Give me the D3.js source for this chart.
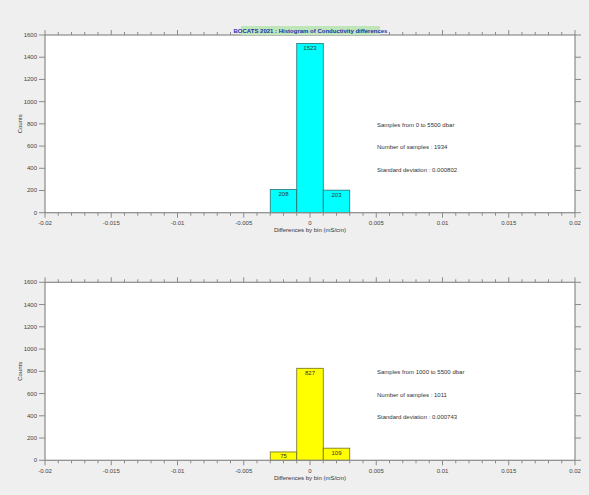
<!DOCTYPE html>
<html><head><meta charset="utf-8">
<script src="https://cdn.jsdelivr.net/npm/d3@7"></script>
<style>
html,body{margin:0;padding:0;background:#efefef;}
svg{display:block;font-family:"Liberation Sans",Arial,sans-serif;}
</style></head>
<body><svg id="c" width="589" height="495"></svg>
<script>
const titleText = "BOCATS 2021 : Histogram of Conductivity differences";
const binStarts = [-0.003, -0.001, 0.001];
const binWidth = 0.002;
const countsTop = [208, 1523, 203];
const countsBottom = [75, 827, 109];
const xTicks = [-0.02, -0.015, -0.01, -0.005, 0, 0.005, 0.01, 0.015, 0.02];
const xTickLabels = ["-0.02", "-0.015", "-0.01", "-0.005", "0", "0.005", "0.01", "0.015", "0.02"];
const yTicks = [0, 200, 400, 600, 800, 1000, 1200, 1400, 1600];
const infoTop = ["Samples from 0 to 5500 dbar", "Number of samples : 1934", "Standard deviation : 0.000802"];
const infoBottom = ["Samples from 1000 to 5500 dbar", "Number of samples : 1011", "Standard deviation : 0.000743"];

const svg = d3.select("#c");
const L = 45, R = 575;
const x = d3.scaleLinear().domain([-0.02, 0.02]).range([L, R]);
const minorTicks = d3.range(-20, 21).map(i => i / 1000);

function panel(top, bottom, counts, fill, stroke, info) {
  const y = d3.scaleLinear().domain([0, 1600]).range([bottom, top]);
  const g = svg.append("g");
  g.append("rect").attr("x", L).attr("y", top).attr("width", R - L).attr("height", bottom - top).attr("fill", "#fff");
  // bars
  g.selectAll(".bar").data(counts).join("rect")
    .attr("x", (d, i) => x(binStarts[i]))
    .attr("width", (d, i) => x(binStarts[i] + binWidth) - x(binStarts[i]))
    .attr("y", d => y(d)).attr("height", d => bottom - y(d))
    .attr("fill", fill).attr("stroke", stroke).attr("stroke-width", 0.8);
  g.selectAll(".bl").data(counts).join("text")
    .attr("x", (d, i) => x(binStarts[i] + binWidth / 2))
    .attr("y", d => y(d) + 6.5)
    .attr("text-anchor", "middle").attr("font-size", 6).attr("fill", "#333")
    .text(d => d);
  const ac = "#8a8a8a";
  // frame
  g.append("rect").attr("x", L).attr("y", top).attr("width", R - L).attr("height", bottom - top)
    .attr("fill", "none").attr("stroke", ac).attr("stroke-width", 1.2);
  // x ticks (top and bottom)
  minorTicks.forEach(t => {
    const major = Math.abs(Math.round(t * 1000) % 5) === 0;
    const len = major ? 5 : 3;
    g.append("line").attr("x1", x(t)).attr("x2", x(t)).attr("y1", bottom).attr("y2", bottom + len).attr("stroke", ac).attr("stroke-width", 1);
    g.append("line").attr("x1", x(t)).attr("x2", x(t)).attr("y1", top).attr("y2", top - len).attr("stroke", ac).attr("stroke-width", 1);
  });
  g.selectAll(".xl").data(xTicks).join("text")
    .attr("x", d => x(d)).attr("y", bottom + 12.5)
    .attr("text-anchor", "middle").attr("font-size", 6).attr("fill", "#444")
    .text((d, i) => xTickLabels[i]);
  // y ticks
  yTicks.forEach(t => {
    g.append("line").attr("x1", L - 6).attr("x2", L).attr("y1", y(t)).attr("y2", y(t)).attr("stroke", ac);
    g.append("line").attr("x1", R).attr("x2", R + 6).attr("y1", y(t)).attr("y2", y(t)).attr("stroke", ac);
  });
  g.selectAll(".yl").data(yTicks).join("text")
    .attr("x", L - 8).attr("y", d => y(d) + 2)
    .attr("text-anchor", "end").attr("font-size", 6).attr("fill", "#444")
    .text(d => d);
  g.append("text").attr("transform", `translate(22,${(top + bottom) / 2}) rotate(-90)`)
    .attr("text-anchor", "middle").attr("font-size", 6).attr("fill", "#333").text("Counts");
  g.append("text").attr("x", x(0)).attr("y", bottom + 19.5)
    .attr("text-anchor", "middle").attr("font-size", 6).attr("fill", "#333").text("Differences by bin (mS/cm)");
  g.selectAll(".info").data(info).join("text")
    .attr("x", 377).attr("y", (d, i) => top + 92 + i * 22.3)
    .attr("font-size", 6).attr("fill", "#333").text(d => d);
}

panel(35, 212.7, countsTop, "#00ffff", "#2a6f6f", infoTop);
panel(282.3, 460.3, countsBottom, "#ffff00", "#6f6f20", infoBottom);

// title
svg.append("rect").attr("x", 241).attr("y", 26).attr("width", 139).attr("height", 9).attr("fill", "#bfe6b8");
svg.append("text").attr("x", 310.5).attr("y", 33).attr("text-anchor", "middle")
  .attr("font-size", 6).attr("font-weight", "bold").attr("fill", "#1a2fb0").text(titleText);
</script></body></html>
